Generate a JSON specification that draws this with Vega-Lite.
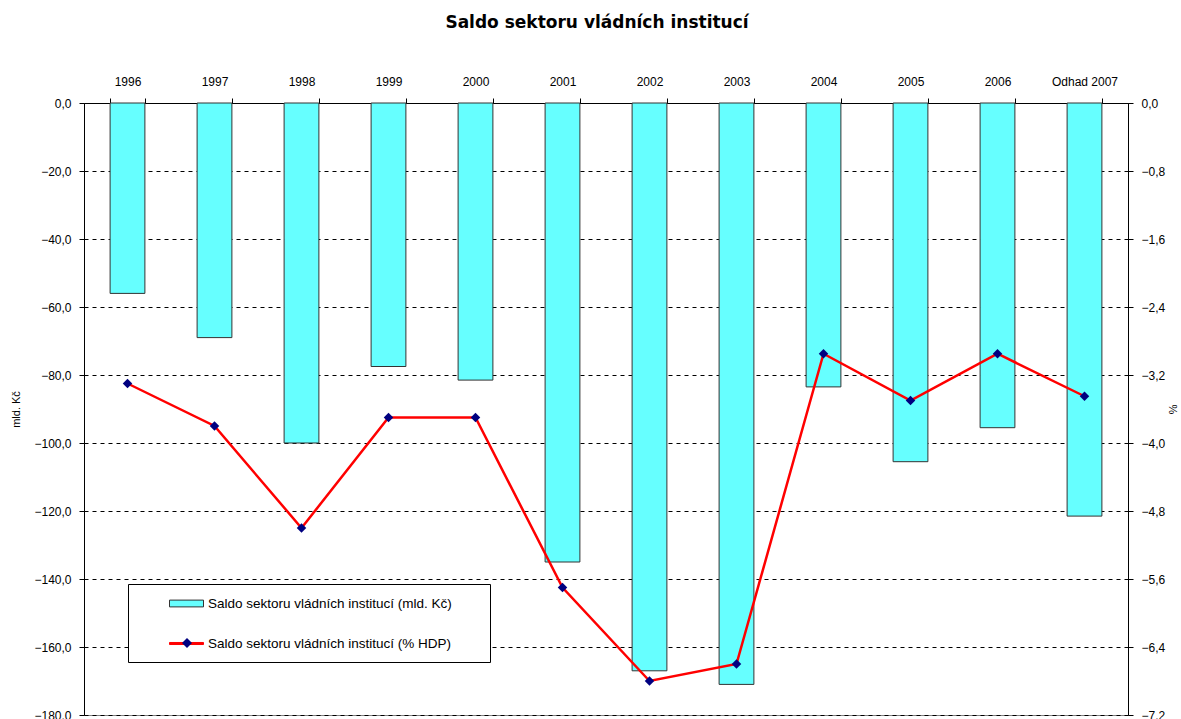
{
  "$schema": "https://vega.github.io/schema/vega-lite/v6.json",
  "autosize": "none",
  "width": 1044,
  "height": 612,
  "padding": {"left": 84, "top": 103, "right": 53, "bottom": 4},
  "background": "white",
  "config": {
    "font": "Liberation Sans",
    "view": {"stroke": "#808080", "strokeWidth": 1},
    "axis": {"labelFont": "Liberation Sans", "labelFontSize": 12, "labelColor": "#000", "titleFont": "Liberation Sans", "titleFontSize": 11, "titleFontWeight": "normal", "titleColor": "#000", "domainColor": "#000", "tickColor": "#000"}
  },
  "title": {"text": "Saldo sektoru vládních institucí", "font": "DejaVu Sans", "fontSize": 17, "fontWeight": "bold", "color": "#000", "offset": 43, "dx": -9},
  "data": {
    "values": [
      {"year": "1996", "mld": -56, "pct": -3.3},
      {"year": "1997", "mld": -69, "pct": -3.8},
      {"year": "1998", "mld": -100, "pct": -5.0},
      {"year": "1999", "mld": -77.5, "pct": -3.7},
      {"year": "2000", "mld": -81.5, "pct": -3.7},
      {"year": "2001", "mld": -135, "pct": -5.7},
      {"year": "2002", "mld": -167, "pct": -6.8},
      {"year": "2003", "mld": -171, "pct": -6.6},
      {"year": "2004", "mld": -83.5, "pct": -2.95},
      {"year": "2005", "mld": -105.5, "pct": -3.5},
      {"year": "2006", "mld": -95.5, "pct": -2.95},
      {"year": "Odhad 2007", "mld": -121.5, "pct": -3.45}
    ]
  },
  "encoding": {
    "x": {
      "field": "year", "type": "nominal", "sort": null,
      "scale": {"paddingInner": 0.6, "paddingOuter": 0.3},
      "axis": {"orient": "top", "title": null, "labelAngle": 0, "tickBand": "extent", "tickSize": 5, "labelPadding": 10, "domainColor": "#000", "labelFontSize": 12}
    }
  },
  "layer": [
    {
      "mark": {"type": "bar", "stroke": "#333333", "strokeWidth": 1},
      "encoding": {
        "y": {
          "field": "mld", "type": "quantitative",
          "scale": {"domain": [-180, 0], "nice": false, "zero": false},
          "axis": {"orient": "left", "title": "mld. Kč", "values": [0, -20, -40, -60, -80, -100, -120, -140, -160, -180], "labelExpr": "replace(format(datum.value, '.1f'), '.', ',')", "grid": true, "gridColor": "#000", "gridDash": [4, 4], "gridWidth": 1, "tickSize": 5, "labelPadding": 8, "titlePadding": 12}
        },
        "fill": {
          "datum": "Saldo sektoru vládních institucí (mld. Kč)",
          "scale": {"domain": ["Saldo sektoru vládních institucí (mld. Kč)", "Saldo sektoru vládních institucí (% HDP)"], "range": ["#66FFFF", "#FF0000"]},
          "legend": {
            "orient": "none", "legendX": 44, "legendY": 481, "title": null,
            "strokeColor": "#000", "fillColor": "#ffffff", "padding": 2,
            "symbolType": "M-1,-0.2H1V0.2H-1Z", "symbolSize": 1156,
            "symbolOffset": 39, "labelOffset": 4, "rowPadding": 3,
            "labelFont": "Liberation Sans", "labelFontSize": 13.5, "labelColor": "#000", "labelLimit": 0,
            "symbolStrokeColor": "#333333", "symbolStrokeWidth": 1,
            "encode": {"symbols": {"update": {
              "shape": {"signal": "datum.index == 1 ? 'M-1,-0.06H1V0.06H-1Z M17.6,0.82Z' : 'M-1,-0.2H1V0.2H-1Z M17.6,1Z'"},
              "stroke": {"signal": "datum.index == 1 ? '#FF0000' : '#333333'"}
            }}}
          }
        }
      }
    },
    {
      "layer": [
        {
          "mark": {"type": "line", "color": "#FF0000", "strokeWidth": 2.5},
          "encoding": {
            "y": {
              "field": "pct", "type": "quantitative",
              "scale": {"domain": [-7.2, 0], "nice": false, "zero": false},
              "axis": {"orient": "right", "title": "%", "values": [0, -0.8, -1.6, -2.4, -3.2, -4.0, -4.8, -5.6, -6.4, -7.2], "labelExpr": "replace(format(datum.value, '.1f'), '.', ',')", "grid": false, "tickSize": 5, "labelPadding": 8, "titlePadding": 2}
            }
          }
        },
        {
          "mark": {"type": "point", "filled": true, "color": "#000080", "size": 90, "opacity": 1},
          "encoding": {
            "y": {"field": "pct", "type": "quantitative"},
            "shape": {
              "datum": "p",
              "scale": {"domain": ["p"], "range": ["diamond"]},
              "legend": {"orient": "none", "legendX": 98, "legendY": 535, "title": null, "labelExpr": "''", "padding": 0, "symbolSize": 100, "symbolFillColor": "#000080", "symbolStrokeColor": "#000080", "symbolStrokeWidth": 0, "labelOffset": 0, "symbolOpacity": 1}
            }
          }
        }
      ]
    }
  ],
  "resolve": {"scale": {"y": "independent"}}
}
